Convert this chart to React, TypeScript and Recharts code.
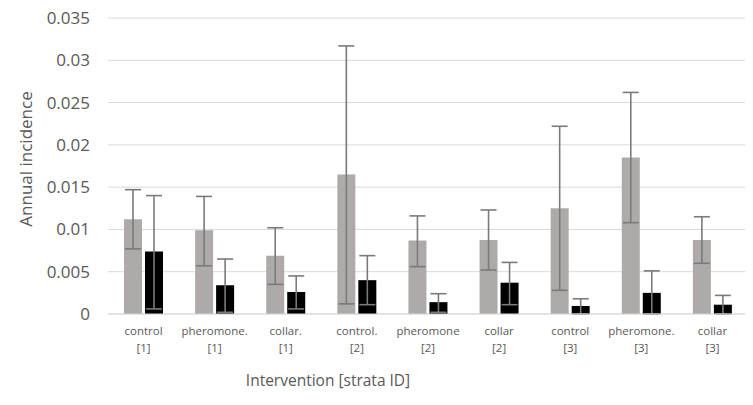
import { BarChart, Bar, XAxis, YAxis, CartesianGrid, ErrorBar, Label } from 'recharts';

const interventions = ['control', 'pheromone.', 'collar.', 'control.', 'pheromone', 'collar', 'control', 'pheromone.', 'collar'];
const strata = ['[1]', '[1]', '[1]', '[2]', '[2]', '[2]', '[3]', '[3]', '[3]'];

// grey series: estimate with lower / upper bounds
const greyMean = [0.0112, 0.0099, 0.0069, 0.0165, 0.0087, 0.00875, 0.0125, 0.0185, 0.00875];
const greyLow = [0.0077, 0.0057, 0.0035, 0.0012, 0.0056, 0.0052, 0.0028, 0.0108, 0.006];
const greyHigh = [0.0147, 0.0139, 0.0102, 0.0317, 0.0116, 0.0123, 0.0222, 0.0262, 0.0115];

// black series
const blackMean = [0.0074, 0.0034, 0.0026, 0.004, 0.0014, 0.0037, 0.00095, 0.0025, 0.0011];
const blackLow = [0.0006, 0.0002, 0.0006, 0.0011, 0.0002, 0.0011, 0, 0, 0];
const blackHigh = [0.014, 0.0065, 0.0045, 0.0069, 0.0024, 0.0061, 0.0018, 0.0051, 0.0022];

const yTicks = [0, 0.005, 0.01, 0.015, 0.02, 0.025, 0.03, 0.035];

const data = interventions.map((name, i) => ({
  key: `${name} ${strata[i]}`,
  name,
  stratum: strata[i],
  grey: greyMean[i],
  greyErr: [greyMean[i] - greyLow[i], greyHigh[i] - greyMean[i]],
  black: blackMean[i],
  blackErr: [blackMean[i] - blackLow[i], blackHigh[i] - blackMean[i]]
}));

const FONT = '"Open Sans", "Liberation Sans", sans-serif';
const TEXT = '#595959';

function XTick(props: any) {
  const { x, y, index } = props;
  const d = data[index];
  return (
    <g>
      <text x={x} y={y + 21} textAnchor="middle" fontSize={11.5} fill={TEXT} fontFamily={FONT}>
        {d.name}
      </text>
      <text x={x} y={y + 37.5} textAnchor="middle" fontSize={11.5} fill={TEXT} fontFamily={FONT}>
        {d.stratum}
      </text>
    </g>
  );
}

function YTick(props: any) {
  const { x, y, payload } = props;
  return (
    <text x={x} y={y} dy={6} textAnchor="end" fontSize={17} fill={TEXT} fontFamily={FONT}>
      {String(payload.value)}
    </text>
  );
}

export default function App() {
  return (
    <div
      style={{
        margin: -8,
        width: 751,
        height: 403,
        border: '1px solid #e3e3e3',
        background: '#fff',
        position: 'relative'
      }}
    >
      <div style={{ position: 'absolute', left: -1, top: -1 }}>
        <BarChart
          width={753}
          height={405}
          data={data}
          margin={{ top: 18, right: 5, bottom: 0, left: 0 }}
          barCategoryGap="22.5%"
          barGap={3}
        >
          <CartesianGrid vertical={false} stroke="#d9d9d9" strokeWidth={1} />
          <XAxis
            dataKey="key"
            height={91}
            tickLine={false}
            tickSize={0}
            tickMargin={0}
            axisLine={{ stroke: '#d9d9d9' }}
            tick={<XTick />}
            interval={0}
          >
            <Label
              content={() => (
                <text x={328} y={386} textAnchor="middle" fontSize={15.5} fill={TEXT} fontFamily={FONT}>
                  Intervention [strata ID]
                </text>
              )}
            />
          </XAxis>
          <YAxis
            width={108}
            domain={[0, 0.035]}
            ticks={yTicks}
            tickLine={false}
            axisLine={false}
            tickSize={0}
            tickMargin={18}
            tick={<YTick />}
          >
            <Label
              content={() => (
                <text
                  x={25}
                  y={159}
                  textAnchor="middle"
                  dominantBaseline="central"
                  transform="rotate(-90 25 159)"
                  fontSize={17}
                  fill={TEXT}
                  fontFamily={FONT}
                >
                  Annual incidence
                </text>
              )}
            />
          </YAxis>
          <Bar dataKey="grey" fill="#aeaaaa" isAnimationActive={false}>
            <ErrorBar dataKey="greyErr" width={8} stroke="#7a7a7a" strokeWidth={1.6} />
          </Bar>
          <Bar dataKey="black" fill="#000000" isAnimationActive={false}>
            <ErrorBar dataKey="blackErr" width={8} stroke="#7a7a7a" strokeWidth={1.6} />
          </Bar>
        </BarChart>
      </div>
    </div>
  );
}
